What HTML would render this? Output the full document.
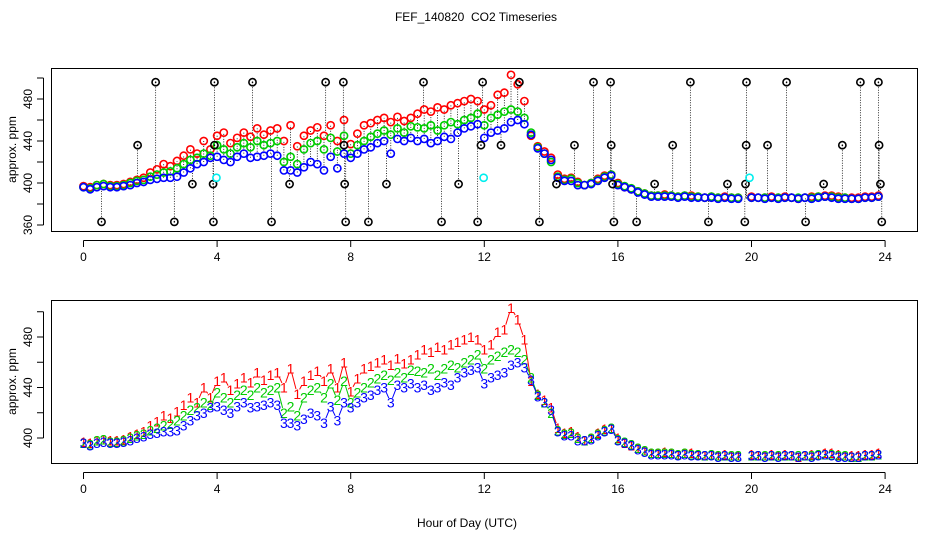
<!DOCTYPE html>
<html><head><meta charset="utf-8"><style>
body{margin:0;background:#fff}
svg{display:block;font-family:"Liberation Sans",sans-serif}
</style></head><body>
<svg id="chart" width="936" height="540" viewBox="0 0 936 540">
<text x="476" y="21" font-size="12" text-anchor="middle">FEF_140820&#160; CO2 Timeseries</text>
<text x="467" y="527" font-size="12" text-anchor="middle">Hour of Day (UTC)</text>
<g id="topPanel"></g>
<g id="botPanel"></g>
</svg>
<script>
const times=[];for(let i=0;i<120;i++)times.push(+(i*0.2).toFixed(1));
const redSeries=[397,396,398,399,398,398,399,401,403,405,
410,413,418,416,421,426,432,428,440,432,
445,448,438,443,448,444,452,446,450,452,
440,455,435,445,450,453,445,455,440,460,
437,447,455,457,460,462,458,463,459,462,
466,470,468,472,470,474,476,478,480,478,
470,474,484,486,503,494,478,445,435,430,
424,408,404,405,401,398,400,404,407,408,
400,396,394,392,390,388,388,389,388,387,
388,388,387,386,387,386,387,386,386,null,
387,386,386,387,386,387,386,385,386,387,
387,388,388,387,386,386,386,387,387,388];
const greenSeries=[396,395,398,399,397,397,398,400,402,403,
406,408,410,411,414,418,422,424,428,426,
436,432,428,434,438,434,440,436,438,440,
420,425,418,432,438,440,432,443,430,445,
428,436,440,444,447,450,446,452,448,454,
453,452,455,450,455,458,456,460,462,466,
455,462,465,468,470,468,462,448,434,428,
420,406,403,404,400,398,400,403,406,408,
399,397,395,392,390,388,388,388,388,387,
388,387,387,386,387,386,386,386,386,null,
386,386,386,386,386,386,386,386,386,386,
387,387,387,386,386,385,385,386,386,387];
const blueSeries=[396,394,396,397,396,396,397,398,400,401,
403,404,405,405,406,410,414,418,420,424,
425,422,420,425,428,424,425,426,428,426,
412,412,410,415,420,418,412,425,414,428,
424,428,432,434,438,440,428,442,440,443,
440,442,438,440,444,442,448,452,454,456,
443,448,450,452,458,460,456,446,433,428,
422,405,402,402,398,398,399,402,405,407,
398,396,394,391,389,387,387,387,387,386,
387,386,386,386,386,385,386,385,385,null,
386,386,385,386,385,386,386,385,386,385,
386,387,386,385,385,385,385,386,386,387];
const spikeTimes=[0.54,1.62,2.16,2.72,3.26,3.89,3.88,3.92,3.92,5.06,5.63,6.17,7.25,7.78,7.8,7.82,7.85,8.53,9.07,10.18,10.72,11.23,11.8,11.9,11.95,12.5,13.05,13.65,14.16,14.7,15.27,15.78,15.8,15.84,15.88,16.56,17.1,17.64,18.17,18.71,19.28,19.8,19.82,19.84,19.85,20.48,21.05,21.62,22.16,22.72,23.26,23.8,23.82,23.86,23.9];
const spikeValues=[363,436,496,363,399,363,399,436,496,496,363,399,496,496,436,399,363,363,399,496,363,399,363,436,496,436,496,363,399,436,496,496,436,399,363,363,399,436,496,363,399,363,399,436,496,436,496,363,399,436,496,496,436,399,363];
const cyanTimes=[3.98,11.98,19.94];
const cyanValues=[405,405,405];
const xTicks=[0,4,8,12,16,20,24];
const topYTicks=[360,380,400,420,440,460,480,500];
const topYLabels=[360,400,440,480];
const botYTicks=[400,420,440,460,480,500];
const botYLabels=[400,440,480];

const NS="http://www.w3.org/2000/svg";
const X=t=>83.5+t*33.4;
const topY=v=>225-(v-360)*1.05;
const botY=v=>438-(v-400)*1.2625;
function mk(p,tag,a){const e=document.createElementNS(NS,tag);for(const k in a)e.setAttribute(k,a[k]);p.appendChild(e);return e;}
function axes(g,y0,y1,Y,ticks,labels,name){
  const r=mk(g,'rect',{x:51.5,y:y0+.5,width:866,height:y1-y0,fill:'none',stroke:'#000'});
  
  
  mk(g,'line',{x1:X(0),x2:X(24),y1:y1+9.5,y2:y1+9.5,stroke:'#000'});
  xTicks.forEach(t=>{mk(g,'line',{x1:X(t),x2:X(t),y1:y1+9.5,y2:y1+16,stroke:'#000'});
    const tx=mk(g,'text',{x:X(t),y:y1+30,'font-size':12,'text-anchor':'middle'});tx.textContent=t;
    
    });
  mk(g,'line',{x1:43.5,x2:43.5,y1:Y(ticks[0]),y2:Y(ticks[ticks.length-1]),stroke:'#000'});
  ticks.forEach(v=>mk(g,'line',{x1:37,x2:43.5,y1:Y(v),y2:Y(v),stroke:'#000'}));
  labels.forEach(v=>{const tx=mk(g,'text',{x:0,y:0,'font-size':12,'text-anchor':'middle',transform:`translate(32,${Y(v)}) rotate(-90)`});tx.textContent=v;
    
    });
  const yl=mk(g,'text',{x:0,y:0,'font-size':12,'text-anchor':'middle',transform:`translate(16,${(y0+y1)/2}) rotate(-90)`});yl.textContent='approx. ppm';
  
  
}
const topG=document.getElementById('topPanel'),botG=document.getElementById('botPanel');
axes(topG,68,231,topY,topYTicks,topYLabels,'top');
axes(botG,300,463,botY,botYTicks,botYLabels,'bottom');
const series=[[redSeries,'#f00','1'],[greenSeries,'#0c0','2'],[blueSeries,'#00f','3']];
times.forEach((t,i)=>{const vs=series.map(s=>s[0][i]).filter(v=>v!=null);if(!vs.length)return;
  const mn=Math.min(...vs),mx=Math.max(...vs);if(mx-mn<3)return;
  mk(topG,'line',{x1:X(t),x2:X(t),y1:topY(mn),y2:topY(mx),stroke:'#000','stroke-width':.8,'stroke-dasharray':'1,1.5'});});
function idx(t){return Math.min(119,Math.round(t/0.2));}
function interp(t){const i=idx(t);let v=blueSeries[i];if(v==null)v=blueSeries[i-1];return v;}
spikeTimes.forEach((t,i)=>{const v=spikeValues[i],b=interp(t);let r=redSeries[idx(t)];if(r==null)r=b;
  const target=v>b?r:b;
  mk(topG,'line',{x1:X(t),x2:X(t),y1:topY(v),y2:topY(target),stroke:'#000','stroke-width':.8,'stroke-dasharray':'1,1.5'});});
series.forEach(([d,c])=>{d.forEach((v,i)=>{if(v==null)return;
  const e=mk(topG,'circle',{cx:X(times[i]),cy:topY(v),r:3.6,fill:'none',stroke:c,'stroke-width':1.6});
  
  });});
spikeTimes.forEach((t,i)=>{const e=mk(topG,'circle',{cx:X(t),cy:topY(spikeValues[i]),r:3.6,fill:'none',stroke:'#000','stroke-width':1.6});
  
  
  mk(topG,'circle',{cx:X(t),cy:topY(spikeValues[i]),r:.8,fill:'#000'});});
cyanTimes.forEach((t,i)=>{const e=mk(topG,'circle',{cx:X(t),cy:topY(cyanValues[i]),r:3.6,fill:'none',stroke:'#0ee','stroke-width':1.6});
  
  });
series.forEach(([d,c,ch])=>{let path='';
  for(let i=1;i<d.length;i++){if(d[i]==null||d[i-1]==null)continue;
    const x1=X(times[i-1]),y1=botY(d[i-1]),x2=X(times[i]),y2=botY(d[i]);
    const L=Math.hypot(x2-x1,y2-y1),g=5;if(L<=2*g+1)continue;
    const ux=(x2-x1)/L,uy=(y2-y1)/L;
    path+='M'+(x1+ux*g).toFixed(1)+','+(y1+uy*g).toFixed(1)+'L'+(x2-ux*g).toFixed(1)+','+(y2-uy*g).toFixed(1);}
  const p=mk(botG,'path',{d:path||'M0,0',fill:'none',stroke:c,'stroke-width':1});
  
  
  d.forEach((v,i)=>{if(v==null)return;
    const tx=mk(botG,'text',{x:X(times[i]),y:botY(v)+5,'font-size':14,'text-anchor':'middle',fill:c});tx.textContent=ch;
    
    });});
</script>
</body></html>
